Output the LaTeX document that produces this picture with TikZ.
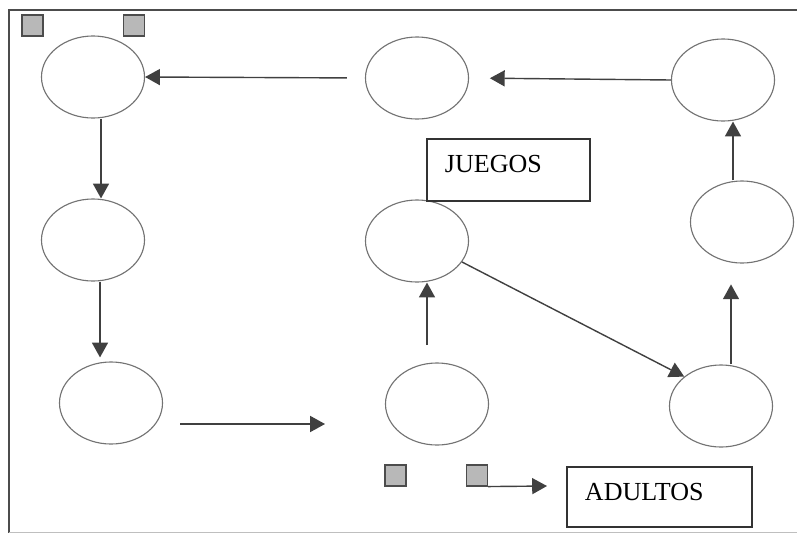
\documentclass[tikz,border=0pt]{standalone}
\usepackage{fontspec}
\setmainfont{Liberation Serif}
\usetikzlibrary{shapes.geometric,arrows.meta}

\begin{document}
\begin{tikzpicture}[x=0.025cm, y=-0.025cm,
    oval/.style={draw=black!55, line width=0.8pt, ellipse, inner sep=0pt, minimum width=2.575cm, minimum height=2.05cm},
    arr/.style={draw=black!75, line width=1pt, -{Triangle[length=0.37cm, width=0.4cm]}},
    sq/.style={draw=black!70, fill=black!28, line width=0.8pt, rectangle, inner sep=0pt, minimum size=0.525cm},
    textbox/.style={draw=black!80, line width=1pt, rectangle, inner xsep=0.45cm, align=left, text depth=0.3cm, font=\fontsize{18.5}{20}\selectfont}]
    \useasboundingbox (0,0) rectangle (797,534);

    % Cadre
    \draw[black!70, line width=0.9pt] (797,10) -- (9,10) -- (9,533);
    \draw[black!25, line width=0.8pt] (9,532.5) -- (797,532.5);

    % Carrés
    \node[sq] (s1) at (32.5,25.5) {};
    \node[sq] (s2) at (134,25.5) {};
    \node[sq] (s3) at (395.5,475.5) {};
    \node[sq] (s4) at (477,475.5) {};

    % Ligne du haut
    \node[oval] (e1) at (93,77) {};
    \node[oval] (e2) at (417,78) {};
    \node[oval] (e3) at (723,80) {};

    % Ligne du milieu
    \node[oval] (e4) at (93,240) {};
    \node[oval] (e5) at (417,241) {};
    \node[oval] (e6) at (742,222) {};

    % Ligne du bas
    \node[oval] (e7) at (111,403) {};
    \node[oval] (e8) at (437,404) {};
    \node[oval] (e9) at (721,406) {};

    % Cadres de texte
    \node[textbox, text width=3.175cm, minimum height=1.55cm] (juegos) at (508.5,170) {JUEGOS};
    \node[textbox, text width=3.725cm, minimum height=1.5cm, text depth=0.28cm] (adultos) at (659.5,497) {ADULTOS};

    % Extrémités libres
    \coordinate (p7) at (180,424);
    \coordinate (p8) at (325,424);
    \coordinate (p5) at (427,345);
    \coordinate (pa) at (547,486);

    % Flèches
    \draw[arr, shorten <=0.45cm] (e2.west) -- (e1.east);
    \draw[arr, shorten >=0.52cm] (e3.west) -- (e2.east);
    \draw[arr] ([xshift=0.2cm]e1.south) -- ([xshift=0.2cm]e4.north);
    \draw[arr, shorten >=0.1cm] ([xshift=0.175cm]e4.south) -- ([xshift=0.175cm]e4.south |- e7.north);
    \draw[arr] (p7) -- (p8);
    \draw[arr] (p5) -- (p5 |- e5.south);
    \draw[arr] (e5.-25) -- (e9.north west);
    \draw[arr, shorten >=0.52cm] ([xshift=0.25cm]e9.north) -- ([xshift=0.25cm]e9.north |- e6.south);
    \draw[arr] ([xshift=-0.225cm]e6.north) -- ([xshift=-0.225cm]e6.north |- e3.south);
    \draw[arr] (s4.south east) -- (pa);

\end{tikzpicture}
\end{document}
